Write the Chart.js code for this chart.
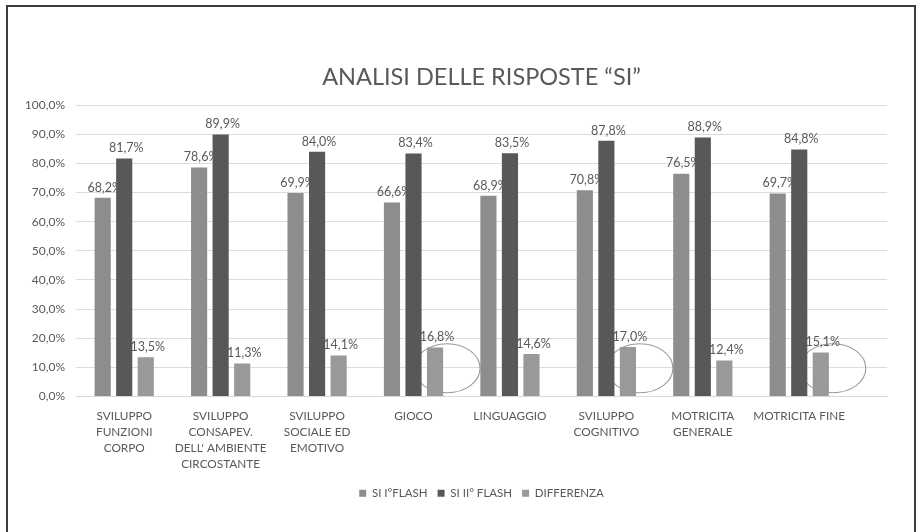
<!DOCTYPE html>
<html>
<head>
<meta charset="utf-8">
<script src="https://cdn.jsdelivr.net/npm/chart.js@4/dist/chart.umd.min.js"></script>
<style>
  html, body { margin: 0; padding: 0; background: #fff; }
  #wrap { position: relative; width: 920px; height: 532px; overflow: hidden; }
  #frame { position: absolute; left: 6px; top: 5px; width: 906px; height: 560px; border: 2px solid #3c3c3c; }
  canvas { position: absolute; left: 0; top: 0; }
</style>
</head>
<body>
<div id="wrap">
  <div id="frame"></div>
  <canvas id="chart" width="920" height="532"></canvas>
</div>
<script>
// categories and series
const categories = [
  ['SVILUPPO', 'FUNZIONI', 'CORPO'],
  ['SVILUPPO', 'CONSAPEV.', "DELL' AMBIENTE", 'CIRCOSTANTE'],
  ['SVILUPPO', 'SOCIALE ED', 'EMOTIVO'],
  'GIOCO',
  'LINGUAGGIO',
  ['SVILUPPO', 'COGNITIVO'],
  ['MOTRICITA', 'GENERALE'],
  'MOTRICITA FINE'
];
const primoFlash = [68.2, 78.6, 69.9, 66.6, 68.9, 70.8, 76.5, 69.7];
const secondoFlash = [81.7, 89.9, 84.0, 83.4, 83.5, 87.8, 88.9, 84.8];
const differenza = [13.5, 11.3, 14.1, 16.8, 14.6, 17.0, 12.4, 15.1];
const seriesNames = ['SI I°FLASH', 'SI II° FLASH', 'DIFFERENZA'];
const circled = [3, 5, 7]; // DIFFERENZA bars marked with a hand-drawn ring

const FONT = 'Lato, "Open Sans", sans-serif';
const TEXT = '#595959';

function pct(v) {
  return v.toFixed(1).replace('.', ',') + '%';
}

// bars sit on category index positions
const byIndex = arr => arr.map((v, i) => ({ x: i, y: v }));

// value labels above every bar
const valueLabels = {
  id: 'valueLabels',
  afterDatasetsDraw(chart) {
    const ctx = chart.ctx;
    ctx.save();
    ctx.font = '12.5px ' + FONT;
    ctx.fillStyle = TEXT;
    ctx.textAlign = 'center';
    ctx.textBaseline = 'bottom';
    chart.data.datasets.forEach((ds, i) => {
      chart.getDatasetMeta(i).data.forEach((bar, j) => {
        ctx.fillText(pct(ds.data[j].y), bar.x + 2, bar.y - 4);
      });
    });
    ctx.restore();
  }
};

// the rings drawn around some DIFFERENZA bars
const rings = {
  id: 'rings',
  beforeDatasetsDraw(chart) {
    const ctx = chart.ctx;
    const meta = chart.getDatasetMeta(2);
    const y = chart.scales.y;
    ctx.save();
    ctx.strokeStyle = '#9a9a9a';
    ctx.lineWidth = 1.1;
    circled.forEach(j => {
      const bar = meta.data[j];
      ctx.beginPath();
      ctx.ellipse(bar.x + 12, y.getPixelForValue(9.7), 33, 24.5, 0, 0, Math.PI * 2);
      ctx.stroke();
    });
    ctx.restore();
  }
};

new Chart(document.getElementById('chart'), {
  type: 'bar',
  data: {
    datasets: [
      { label: seriesNames[0], data: byIndex(primoFlash), backgroundColor: '#8d8d8d' },
      { label: seriesNames[1], data: byIndex(secondoFlash), backgroundColor: '#585858' },
      { label: seriesNames[2], data: byIndex(differenza), backgroundColor: '#999999' }
    ]
  },
  options: {
    responsive: false,
    animation: false,
    devicePixelRatio: 1,
    datasets: { bar: { categoryPercentage: 0.67, barPercentage: 0.75 } },
    layout: { padding: { left: 0, right: 33, top: 0, bottom: 23 } },
    plugins: {
      title: {
        display: true,
        fullSize: false,
        text: 'ANALISI DELLE RISPOSTE “SI”',
        color: TEXT,
        font: { family: FONT, size: 23.5, weight: 'normal' },
        padding: { top: 63, bottom: 14 }
      },
      legend: {
        position: 'bottom',
        fullSize: false,
        labels: {
          color: TEXT,
          font: { family: FONT, size: 11.5 },
          boxWidth: 7,
          boxHeight: 7,
          padding: 10
        }
      },
      tooltip: { enabled: false }
    },
    scales: {
      x: {
        type: 'linear',
        offset: false,
        min: -0.5,
        max: categories.length - 0.09,
        grid: { display: false, drawTicks: false },
        border: { color: '#d9d9d9' },
        ticks: {
          stepSize: 1,
          color: TEXT,
          font: { family: FONT, size: 11.8, lineHeight: 1.36 },
          padding: 12,
          maxRotation: 0,
          autoSkip: false,
          callback: v => categories[v] || ''
        },
        // one tick per category only
        afterBuildTicks(s) {
          s.ticks = s.ticks.filter(t => Number.isInteger(t.value) && t.value >= 0 && t.value < categories.length);
        },
        afterFit(s) { s.height = 81; }
      },
      y: {
        min: 0,
        max: 100,
        grid: { color: '#dcdcdc', drawTicks: false },
        border: { display: false },
        ticks: {
          stepSize: 10,
          color: TEXT,
          font: { family: FONT, size: 12 },
          padding: 11,
          callback: v => pct(v)
        },
        afterFit(s) { s.width = 76; }
      }
    }
  },
  plugins: [rings, valueLabels]
});
</script>
</body>
</html>
